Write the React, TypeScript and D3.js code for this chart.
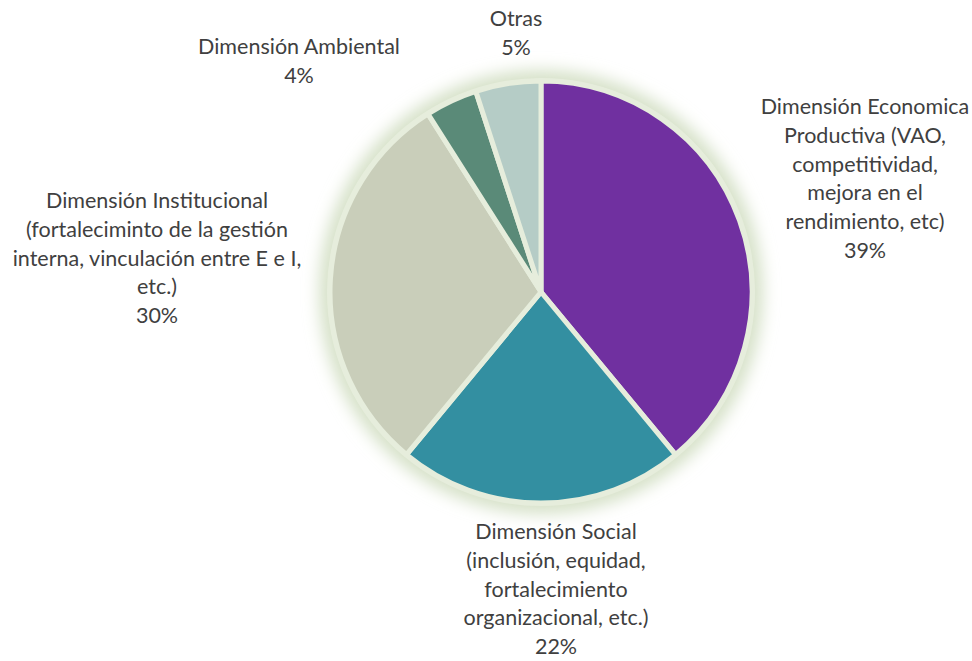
import React from "react";
import * as d3 from "d3";

const categories = [
  "Dimensión Economica Productiva (VAO, competitividad, mejora en el rendimiento, etc)",
  "Dimensión Social (inclusión, equidad, fortalecimiento organizacional, etc.)",
  "Dimensión Institucional (fortalecimiento de la gestión interna, vinculación entre E e I, etc.)",
  "Dimensión Ambiental",
  "Otras",
];
const values = [39, 22, 30, 4, 5];
const percentLabels = ["39%", "22%", "30%", "4%", "5%"];
const labelLines = [
  ["Dimensión Economica", "Productiva (VAO,", "competitividad,", "mejora en el", "rendimiento, etc)"],
  ["Dimensión Social", "(inclusión, equidad,", "fortalecimiento", "organizacional, etc.)"],
  ["Dimensión Institucional", "(fortaleciminto de la gestión", "interna, vinculación entre E e I,", "etc.)"],
  ["Dimensión Ambiental"],
  ["Otras"],
];
const colors = ["#7030A0", "#338FA1", "#C9CEBA", "#5A8A78", "#B5CCC6"];

// layout: label block centre x and first-line centre y
const labelAnchors = [
  { x: 865, y: 106 },
  { x: 556, y: 531 },
  { x: 157, y: 200 },
  { x: 299, y: 46 },
  { x: 516, y: 18 },
];

const W = 972;
const H = 661;
const cx = 541;
const cy = 292;
const R = 211;
const lineH = 28.8;

export default function App() {
  const pie = d3.pie<number>().sort(null).value((d) => d);
  const arcs = pie(values);
  const arc = d3.arc<d3.PieArcDatum<number>>().innerRadius(0).outerRadius(R);
  return (
    <svg width={W} height={H} style={{ position: "absolute", left: 0, top: 0 }}>
      <defs>
        <filter id="glow" x="-30%" y="-30%" width="160%" height="160%">
          <feGaussianBlur stdDeviation="8" />
        </filter>
      </defs>
      <rect width={W} height={H} fill="#fff" />
      <circle cx={cx} cy={cy} r={R + 11} fill="#D6E1C8" filter="url(#glow)" />
      <circle cx={cx} cy={cy} r={R + 3} fill="#E6EDDC" />
      <g transform={`translate(${cx},${cy})`}>
        {arcs.map((a, i) => (
          <path key={i} d={arc(a) || ""} fill={colors[i]} stroke="#E6EDDC" strokeWidth={5} strokeLinejoin="round" />
        ))}
      </g>
      <g fontFamily="Lato, 'Open Sans', sans-serif" fontSize={21.5} fill="#404040" textAnchor="middle">
        {labelLines.map((lines, i) => (
          <text key={i} x={labelAnchors[i].x} y={labelAnchors[i].y} dominantBaseline="central">
            {[...lines, percentLabels[i]].map((l, j) => (
              <tspan key={j} x={labelAnchors[i].x} y={labelAnchors[i].y + j * lineH}>
                {l}
              </tspan>
            ))}
          </text>
        ))}
      </g>
    </svg>
  );
}
